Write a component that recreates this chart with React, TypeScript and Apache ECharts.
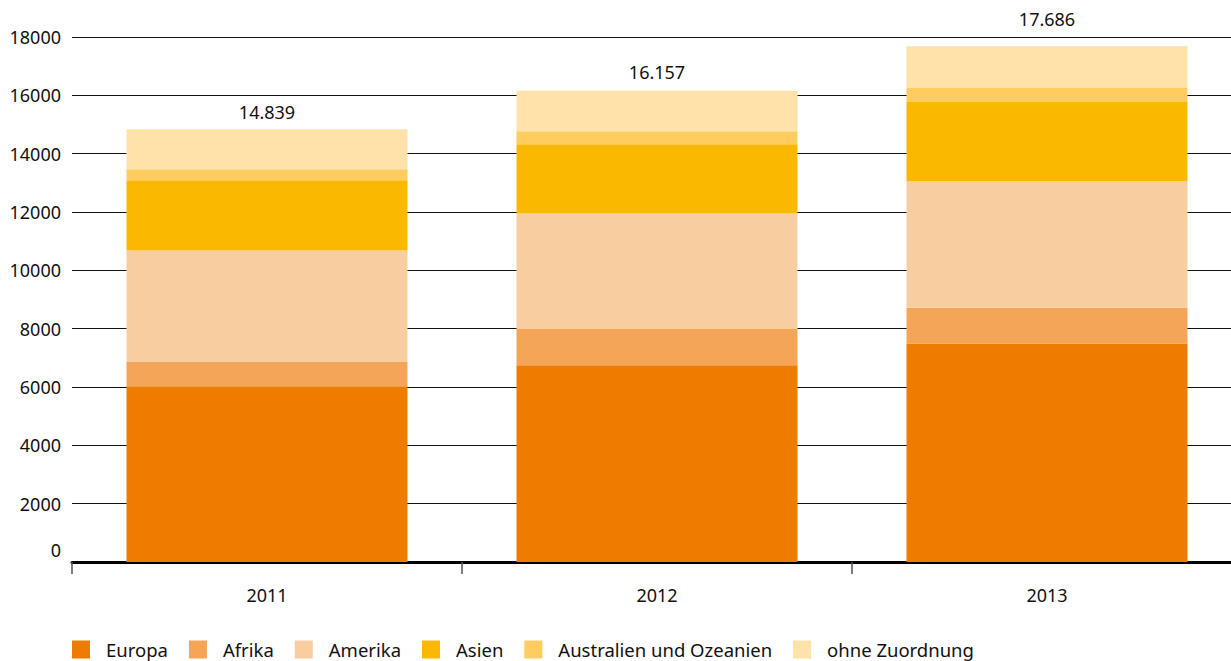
import React, { useEffect, useRef } from "react";
import * as echarts from "echarts";

const categories = ["2011", "2012", "2013"];
const seriesNames = ["Europa", "Afrika", "Amerika", "Asien", "Australien und Ozeanien", "ohne Zuordnung"];
const europa = [6030, 6750, 7490];
const afrika = [830, 1240, 1230];
const amerika = [3820, 3960, 4340];
const asien = [2410, 2375, 2710];
const australien = [380, 445, 480];
const ohneZuordnung = [1369, 1387, 1436];
const totals = [14839, 16157, 17686];
const colors = ["#EE7C00", "#F4A557", "#F8CEA1", "#FAB900", "#FECC5F", "#FEE2A9"];

const FONT = "Noto Sans";
const totalLabelDistance = [8, 10, 18];

function fmtDe(v: number): string {
  const s = String(Math.round(v));
  return s.replace(/\B(?=(\d{3})+(?!\d))/g, ".");
}

export default function App() {
  const ref = useRef<HTMLDivElement>(null);
  useEffect(() => {
    if (!ref.current) return;
    const chart = echarts.init(ref.current, undefined, { renderer: "svg" });
    const values = [europa, afrika, amerika, asien, australien, ohneZuordnung];
    const series: any[] = values.map((d, i) => {
      const isTop = i === values.length - 1;
      return {
        name: seriesNames[i],
        type: "bar",
        stack: "total",
        barWidth: 281,
        data: isTop
          ? d.map((v, j) => ({ value: v, label: { distance: totalLabelDistance[j] } }))
          : d,
        itemStyle: { color: colors[i] },
        label: isTop
          ? {
              show: true,
              position: "top",
              color: "#111",
              fontFamily: FONT,
              fontSize: 18,
              formatter: (p: any) => fmtDe(totals[p.dataIndex]),
            }
          : { show: false },
      };
    });
    chart.setOption({
      animation: false,
      color: colors,
      textStyle: { fontFamily: FONT },
      grid: { left: 72, top: 37, right: 0, height: 525, containLabel: false },
      legend: {
        left: 72,
        top: 640,
        padding: 0,
        itemWidth: 18,
        itemHeight: 18,
        itemGap: 21,
        icon: "rect",
        data: seriesNames,
        textStyle: {
          fontFamily: FONT,
          fontSize: 18.5,
          lineHeight: 18,
          color: "#111",
          padding: [0, 0, 0, 11],
        },
      },
      xAxis: {
        type: "category",
        data: categories,
        axisLine: { show: true, lineStyle: { color: "#000", width: 3 } },
        axisTick: { show: true, length: 12, lineStyle: { color: "#555", width: 1.5 } },
        axisLabel: { color: "#111", fontFamily: FONT, fontSize: 18, margin: 24 },
      },
      yAxis: {
        type: "value",
        min: 0,
        max: 18000,
        interval: 2000,
        axisLine: { show: false },
        axisTick: { show: false },
        splitLine: { show: true, lineStyle: { color: "#111", width: 1 } },
        axisLabel: {
          color: "#111",
          fontFamily: FONT,
          fontSize: 18,
          margin: 11,
          formatter: (v: number) => (v === 0 ? "{z|0}" : String(v)),
          rich: { z: { padding: [0, 0, 24, 0], fontFamily: FONT, fontSize: 18, color: "#111" } },
        },
      },
      series,
    });
    return () => chart.dispose();
  }, []);
  return (
    <div
      style={{ position: "absolute", left: 0, top: 0, width: 1231, height: 661, overflow: "hidden", background: "#fff" }}
    >
      <div ref={ref} style={{ width: 1242, height: 661 }} />
    </div>
  );
}
